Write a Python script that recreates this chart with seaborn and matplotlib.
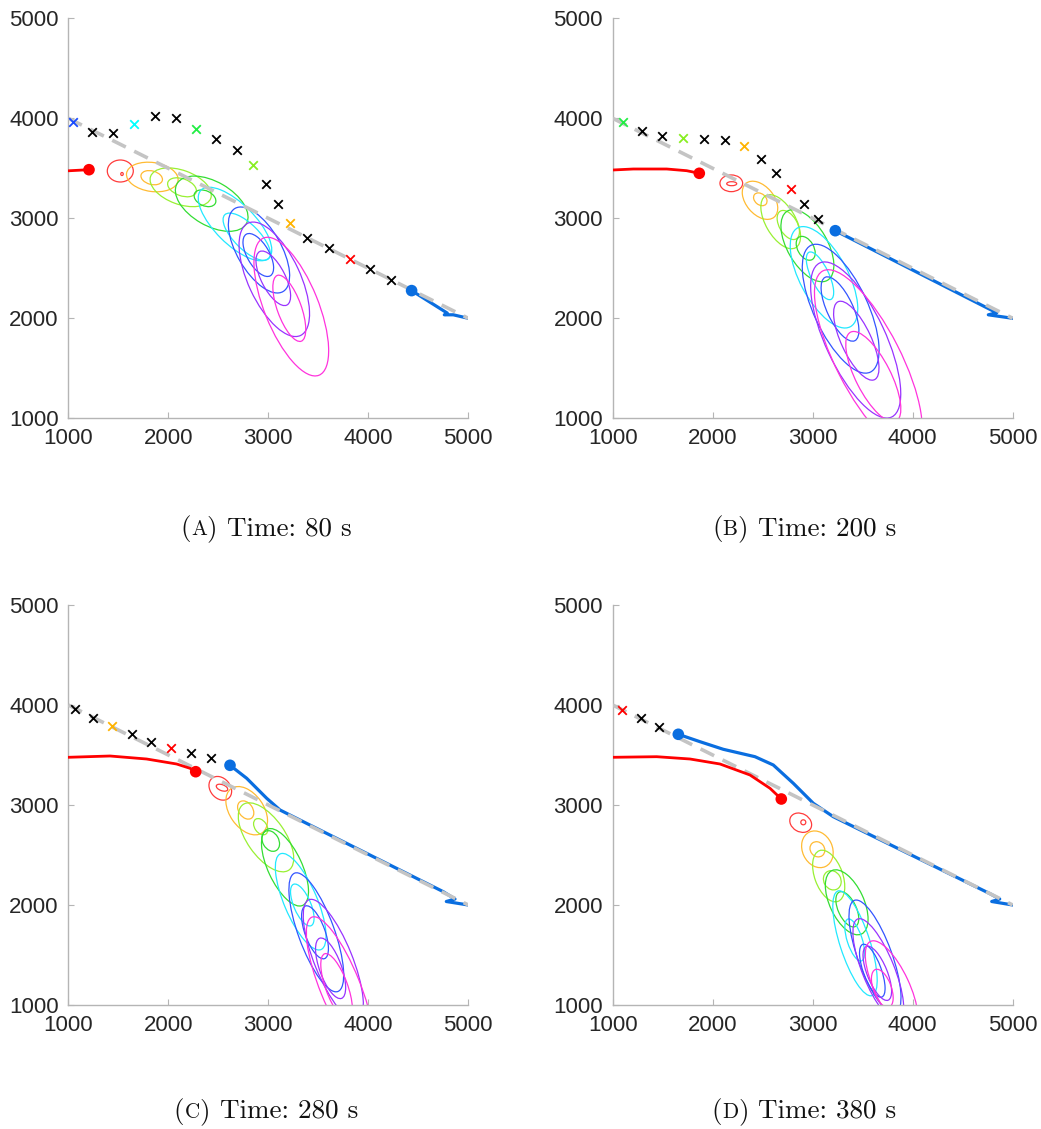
import matplotlib
matplotlib.use("Agg")
import matplotlib.pyplot as plt
from matplotlib.patches import Ellipse
import seaborn as sns
import pandas as pd

sns.set_theme(style="white")
plt.rcParams['font.family'] = ['Liberation Sans', 'DejaVu Sans']

# ---------------- data ----------------
TICKS = [1000, 2000, 3000, 4000, 5000]
TICK_LABELS = ["1000", "2000", "3000", "4000", "5000"]
CAPTION_LETTERS = ["A", "B", "C", "D"]
CAPTION_TEXTS = ["Time: 80 s", "Time: 200 s", "Time: 280 s", "Time: 380 s"]

# reference route (grey dashed)
ROUTE_X = [1000, 5000]
ROUTE_Y = [4000, 2000]

# contour colours: red, orange, yellow-green, green, cyan, blue, purple, magenta
CONTOUR_COLORS = ["#ff3b3b", "#ffbb33", "#99f033", "#33dd33", "#22e8ff", "#3355ff", "#9933ff", "#ff33dd"]
MARK_COLORS = {"k": "#000000", "red": "#ff0000", "orange": "#ffb300", "yg": "#88ee22",
               "green": "#22ee44", "cyan": "#00ffff", "blue": "#1a4cff"}

# ---- panel A (80 s) ----
A_red_x = [1000, 1207]
A_red_y = [3475, 3486]
A_blue_x = [4433, 4790, 4760, 4850, 5000]
A_blue_y = [2277, 2052, 2035, 2035, 2000]
A_cross_x = [1050, 1240, 1450, 1657, 1867, 2080, 2277, 2477, 2687, 2850, 2980, 3100, 3217, 3390, 3604, 3814, 4020, 4227]
A_cross_y = [3966, 3860, 3853, 3940, 4023, 4006, 3893, 3790, 3686, 3533, 3343, 3146, 2950, 2800, 2703, 2596, 2493, 2386]
A_cross_c = ["blue", "k", "k", "cyan", "k", "k", "green", "k", "k", "yg", "k", "k", "orange", "k", "k", "red", "k", "k"]
# (cx, cy, width, height, angle)
A_outer = [(1520, 3473, 260, 220, 0), (1840, 3413, 520, 290, -8), (2124, 3310, 640, 340, -20),
           (2434, 3146, 800, 440, -30), (2667, 2943, 960, 400, -45), (2907, 2683, 960, 440, -60),
           (3060, 2390, 1240, 520, -65), (3230, 2117, 1480, 540, -68)]
A_inner = [(1537, 3443, 25, 30, 0), (1834, 3406, 220, 135, -15), (2137, 3310, 300, 170, -20),
           (2367, 3200, 230, 150, -25), (2784, 2816, 620, 250, -45), (2900, 2633, 480, 220, -60),
           (3050, 2400, 600, 240, -63), (3210, 2100, 700, 240, -70)]

# ---- panel B (200 s) ----
B_red_x = [1000, 1206, 1540, 1740, 1866]
B_red_y = [3483, 3493, 3493, 3476, 3450]
B_blue_x = [3226, 4840, 4756, 5000]
B_blue_y = [2876, 2055, 2035, 2000]
B_cross_x = [1106, 1296, 1496, 1706, 1916, 2123, 2316, 2483, 2633, 2780, 2916, 3056]
B_cross_y = [3960, 3873, 3823, 3800, 3793, 3783, 3723, 3590, 3450, 3293, 3140, 2996]
B_cross_c = ["green", "k", "k", "yg", "k", "k", "orange", "k", "k", "red", "k", "k"]
B_outer = [(2186, 3350, 227, 167, 0), (2473, 3180, 440, 280, -50), (2680, 2966, 600, 300, -60),
           (2947, 2726, 800, 400, -60), (3113, 2410, 1120, 480, -62), (3280, 2096, 1400, 540, -65),
           (3430, 1783, 1700, 600, -65), (3556, 1583, 2000, 650, -63)]
B_inner = [(2190, 3346, 100, 40, 0), (2476, 3190, 150, 110, -40), (2756, 2933, 320, 180, -60),
           (2930, 2700, 260, 160, -60), (3073, 2425, 520, 180, -65), (3273, 2093, 700, 260, -65),
           (3436, 1776, 860, 300, -65), (3606, 1416, 1000, 350, -63)]

# ---- panel C (280 s) ----
C_red_x = [1000, 1417, 1783, 2083, 2217, 2274]
C_red_y = [3477, 3490, 3460, 3410, 3367, 3333]
C_blue_x = [2617, 2784, 2984, 3117, 3250, 4750, 4867, 4780, 5000]
C_blue_y = [3397, 3267, 3067, 2950, 2883, 2133, 2060, 2035, 2000]
C_cross_x = [1067, 1250, 1440, 1634, 1827, 2027, 2227, 2427]
C_cross_y = [3960, 3873, 3790, 3710, 3633, 3573, 3523, 3473]
C_cross_c = ["k", "k", "orange", "k", "k", "red", "k", "k"]
C_outer = [(2520, 3167, 260, 200, -50), (2784, 2943, 540, 340, -55), (2977, 2677, 800, 380, -55),
           (3167, 2377, 840, 340, -65), (3324, 2033, 1040, 330, -67), (3480, 1727, 1260, 360, -70),
           (3650, 1450, 1300, 380, -68), (3717, 1183, 1500, 400, -68)]
C_inner = [(2537, 3173, 120, 60, -20), (2774, 2950, 200, 140, -55), (2924, 2783, 180, 120, -55),
           (3024, 2640, 220, 160, -60), (3340, 2000, 450, 170, -67), (3467, 1727, 560, 200, -70),
           (3623, 1367, 640, 220, -70), (3683, 1183, 700, 220, -70)]

# ---- panel D (380 s) ----
D_red_x = [1000, 1440, 1773, 2073, 2373, 2573, 2686]
D_red_y = [3477, 3483, 3460, 3410, 3300, 3167, 3060]
D_blue_x = [1656, 1873, 2106, 2423, 2606, 2806, 3006, 3206, 4773, 4870, 4790, 5000]
D_blue_y = [3707, 3633, 3557, 3483, 3400, 3217, 3017, 2883, 2113, 2060, 2035, 2000]
D_cross_x = [1096, 1283, 1466]
D_cross_y = [3950, 3867, 3783]
D_cross_c = ["red", "k", "k"]
D_outer = [(2880, 2823, 230, 180, -30), (3047, 2557, 380, 300, -65), (3160, 2290, 540, 280, -70),
           (3340, 2027, 700, 340, -65), (3423, 1617, 1100, 300, -72), (3623, 1483, 1200, 340, -70),
           (3656, 1350, 1100, 320, -68), (3790, 1183, 1000, 350, -65)]
D_inner = [(2906, 2827, 50, 50, 0), (3047, 2557, 160, 140, -50), (3196, 2247, 200, 170, -60),
           (3346, 1957, 380, 180, -65), (3420, 1650, 440, 150, -72), (3596, 1343, 560, 180, -70),
           (3646, 1317, 580, 200, -68), (3696, 1167, 400, 180, -70)]

PANELS = [
    (A_red_x, A_red_y, A_blue_x, A_blue_y, A_cross_x, A_cross_y, A_cross_c, A_outer, A_inner),
    (B_red_x, B_red_y, B_blue_x, B_blue_y, B_cross_x, B_cross_y, B_cross_c, B_outer, B_inner),
    (C_red_x, C_red_y, C_blue_x, C_blue_y, C_cross_x, C_cross_y, C_cross_c, C_outer, C_inner),
    (D_red_x, D_red_y, D_blue_x, D_blue_y, D_cross_x, D_cross_y, D_cross_c, D_outer, D_inner),
]

# ---------------- figure ----------------
W, H = 1041, 1129
fig = plt.figure(figsize=(W / 100, H / 100), dpi=100)

ax_w = 400 / W
ax_h = 400 / H
lefts = [68.3 / W, 612.7 / W, 68.3 / W, 612.7 / W]
bottoms = [1 - 418.3 / H, 1 - 418.3 / H, 1 - 1005 / H, 1 - 1005 / H]

RED = "#ff0000"
BLUE = "#0a6ee0"
GREY = "#c4c4c4"
SPINE = "#b5b5b5"

for i, (rx, ry, bx, by, cx, cy, cc, outer, inner) in enumerate(PANELS):
    ax = fig.add_axes([lefts[i], bottoms[i], ax_w, ax_h])
    ax.set_xlim(1000, 5000)
    ax.set_ylim(1000, 5000)
    ax.set_aspect("equal", adjustable="box")

    # contours
    for k, (el, ei) in enumerate(zip(outer, inner)):
        for (ex, ey, ew, eh, ea) in (el, ei):
            ax.add_patch(Ellipse((ex, ey), ew, eh, angle=ea, fill=False,
                                 edgecolor=CONTOUR_COLORS[k], lw=0.9, zorder=2))

    # blue track (drawn beneath the grey dashed route)
    sns.lineplot(x=bx, y=by, sort=False, estimator=None, color=BLUE, lw=2.3, ax=ax, zorder=3)
    # grey dashed route
    ax.plot(ROUTE_X, ROUTE_Y, color=GREY, lw=2.6, dashes=(4.2, 2.6), zorder=4,
            solid_capstyle="butt", dash_capstyle="butt")
    # red track
    sns.lineplot(x=rx, y=ry, sort=False, estimator=None, color=RED, lw=2.0, ax=ax, zorder=5)
    # end dots
    sns.scatterplot(x=[rx[-1]], y=[ry[-1]], color=RED, s=70, edgecolor="none", ax=ax, zorder=6)
    sns.scatterplot(x=[bx[0]], y=[by[0]], color=BLUE, s=70, edgecolor="none", ax=ax, zorder=6)

    # cross markers
    df = pd.DataFrame({"x": cx, "y": cy, "c": cc})
    for key, sub in df.groupby("c"):
        sns.scatterplot(data=sub, x="x", y="y", marker="x", s=38, linewidth=1.3,
                        color=MARK_COLORS[key], ax=ax, zorder=7)

    # axes styling
    ax.set_xticks(TICKS)
    ax.set_yticks(TICKS)
    ax.set_xticklabels(TICK_LABELS)
    ax.set_yticklabels(TICK_LABELS)
    ax.set_xlabel("")
    ax.set_ylabel("")
    for s in ("top", "right"):
        ax.spines[s].set_visible(False)
    for s in ("left", "bottom"):
        ax.spines[s].set_color(SPINE)
        ax.spines[s].set_linewidth(1.0)
    ax.tick_params(axis="both", direction="in", length=4, width=0.8, color=SPINE,
                   labelsize=16, labelcolor="#262626", pad=7,
                   bottom=True, left=True)
    ax.set_facecolor("white")
    if ax.get_legend() is not None:
        ax.get_legend().remove()

# ---------------- captions ----------------
fig.canvas.draw()
renderer = fig.canvas.get_renderer()
cap_centers_x = [266, 804, 266, 804]
cap_base_y = [535, 535, 1118, 1118]
CAP_FONT = ["cmr10", "DejaVu Serif"]
CAP_SIZE = 19.5
for i in range(4):
    pieces = [("(", CAP_SIZE), (CAPTION_LETTERS[i], CAP_SIZE * 0.78), (")", CAP_SIZE),
              (" ", CAP_SIZE), (CAPTION_TEXTS[i], CAP_SIZE)]
    arts = []
    widths = []
    for txt, sz in pieces:
        t = fig.text(0, 1 - cap_base_y[i] / H, txt, fontsize=sz, family=CAP_FONT,
                     va="baseline", ha="left", color="#111111")
        arts.append(t)
    for t, (txt, sz) in zip(arts, pieces):
        if txt.strip() == "":
            widths.append(sz * 0.5)
        else:
            widths.append(t.get_window_extent(renderer).width)
    total = sum(widths)
    x = cap_centers_x[i] - total / 2
    for t, w in zip(arts, widths):
        t.set_x(x / W)
        x += w

fig.savefig("out.png", dpi=100, facecolor="white")
